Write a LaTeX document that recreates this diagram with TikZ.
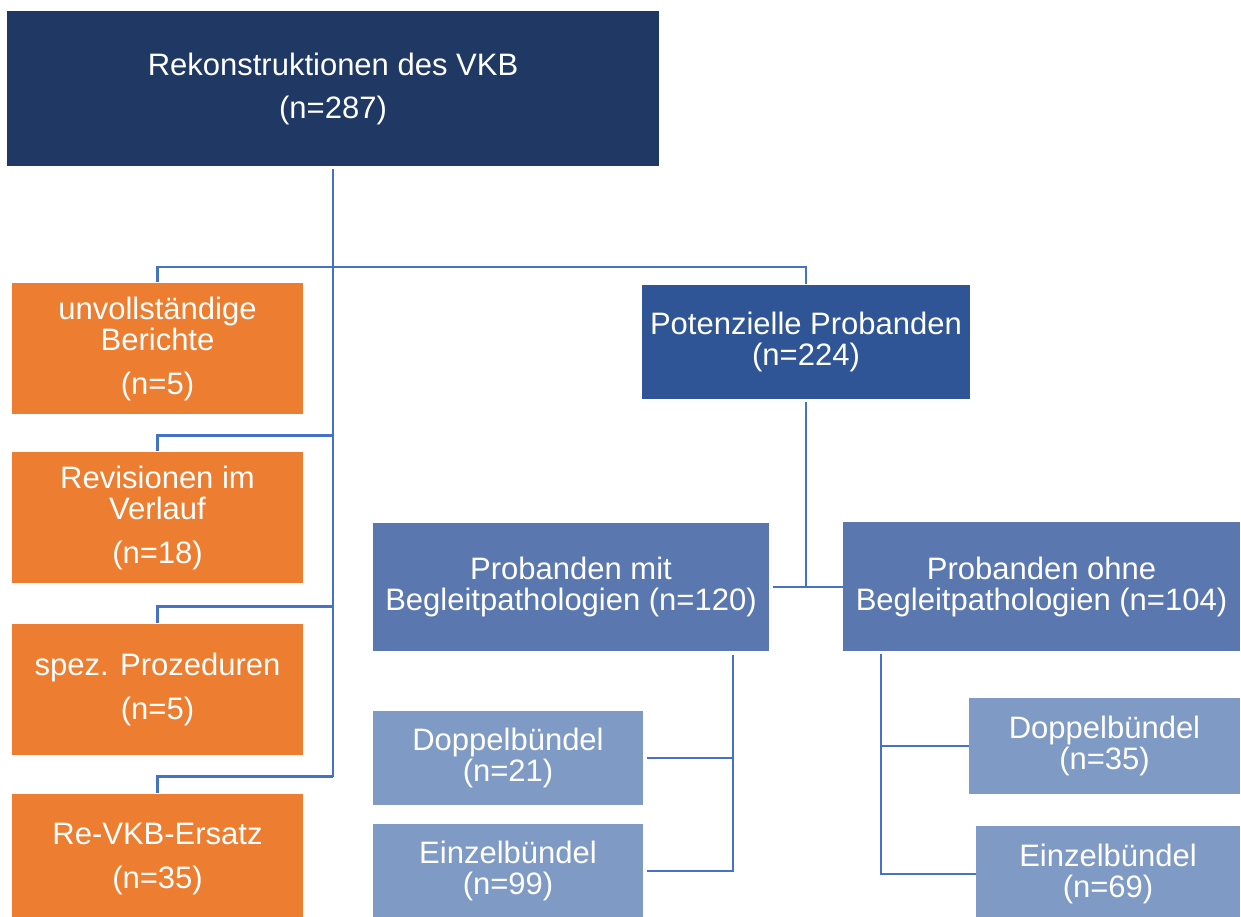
\documentclass[tikz,border=0pt]{standalone}
\usepackage{fontspec}
\setmainfont{Liberation Sans}
\usepackage{tikz}
\usetikzlibrary{calc}

\definecolor{navy}{HTML}{203864}
\definecolor{potblue}{HTML}{2F5597}
\definecolor{midblue}{HTML}{5A78AF}
\definecolor{paleblue}{HTML}{7F9AC5}
\definecolor{excl}{HTML}{ED7D31}
\definecolor{wire}{HTML}{4472C4}

\begin{document}
\begin{tikzpicture}[x=1pt, y=1pt,
  box/.style={inner sep=0pt, align=center, text=white,
    font=\fontsize{31}{31}\selectfont},
  conn/.style={draw=wire, line width=2.6pt}]
\useasboundingbox (0, 0) rectangle (1241, 917);

\node[box, fill=navy, minimum width=652, minimum height=155] (top) at (333, 828.5)
  {Rekonstruktionen des VKB\\[12pt](n=287)};

\node[box, fill=excl, minimum width=291, minimum height=131] (unv) at (157.5, 568.5)
  {unvollständige\\Berichte\\[13pt](n=5)};
\node[box, fill=excl, minimum width=291, minimum height=131] (rev) at (157.5, 399.5)
  {Revisionen im\\Verlauf\\[13pt](n=18)};
\node[box, fill=excl, minimum width=291, minimum height=131] (spez) at (157.5, 227.5)
  {spez. Prozeduren\\[13pt](n=5)};
\node[box, fill=excl, minimum width=291, minimum height=131] (reVKB) at (157.5, 57.5)
  {Re-VKB-Ersatz\\[13pt](n=35)};

\node[box, fill=potblue, minimum width=328, minimum height=114] (pot) at (806, 575)
  {Potenzielle Probanden\\(n=224)};

\node[box, fill=midblue, minimum width=396, minimum height=128] (mit) at (571, 330)
  {Probanden mit\\Begleitpathologien (n=120)};
\node[box, fill=midblue, minimum width=397, minimum height=129] (ohne) at (1041.5, 330)
  {Probanden ohne\\Begleitpathologien (n=104)};

\node[box, fill=paleblue, minimum width=270, minimum height=94] (dopMit) at (508, 159)
  {Doppelbündel\\(n=21)};
\node[box, fill=paleblue, minimum width=270, minimum height=94] (einMit) at (508, 46)
  {Einzelbündel\\(n=99)};
\node[box, fill=paleblue, minimum width=271, minimum height=96] (dopOhne) at (1104.5, 171)
  {Doppelbündel\\(n=35)};
\node[box, fill=paleblue, minimum width=264, minimum height=96] (einOhne) at (1108, 43)
  {Einzelbündel\\(n=69)};

% main trunk and split
\coordinate (trunk) at (333, 650);
\draw[conn] ($(top.south)+(0,-3)$) -- ($(trunk |- reVKB.north)+(0,17)$);
\draw[conn] ($(unv.north)+(0,1)$) |- (trunk) -| ($(pot.north)+(0,1)$);
\draw[conn] ($(rev.north)+(0,1)$) |- ($(trunk |- rev.north)+(0,16)$);
\draw[conn] ($(spez.north)+(0,1)$) |- ($(trunk |- spez.north)+(0,17)$);
\draw[conn] ($(reVKB.north)+(0,1)$) |- ($(trunk |- reVKB.north)+(0,17)$);

% potenzielle probanden
\draw[conn] ($(pot.south)+(0,-3)$) -- (pot.south |- mit.east);
\draw[conn] ($(mit.east)+(4,0)$) -- (ohne.west);

% sub groups
\coordinate (busL) at (733, 262);
\coordinate (busR) at (881, 263);
\draw[conn] (busL) |- ($(einMit.east)+(4,0)$);
\draw[conn] ($(dopMit.east)+(4,0)$) -- (dopMit.east -| busL);
\draw[conn] (busR) |- (einOhne.west);
\draw[conn] (dopOhne.west) -- (dopOhne.west -| busR);
\end{tikzpicture}
\end{document}
